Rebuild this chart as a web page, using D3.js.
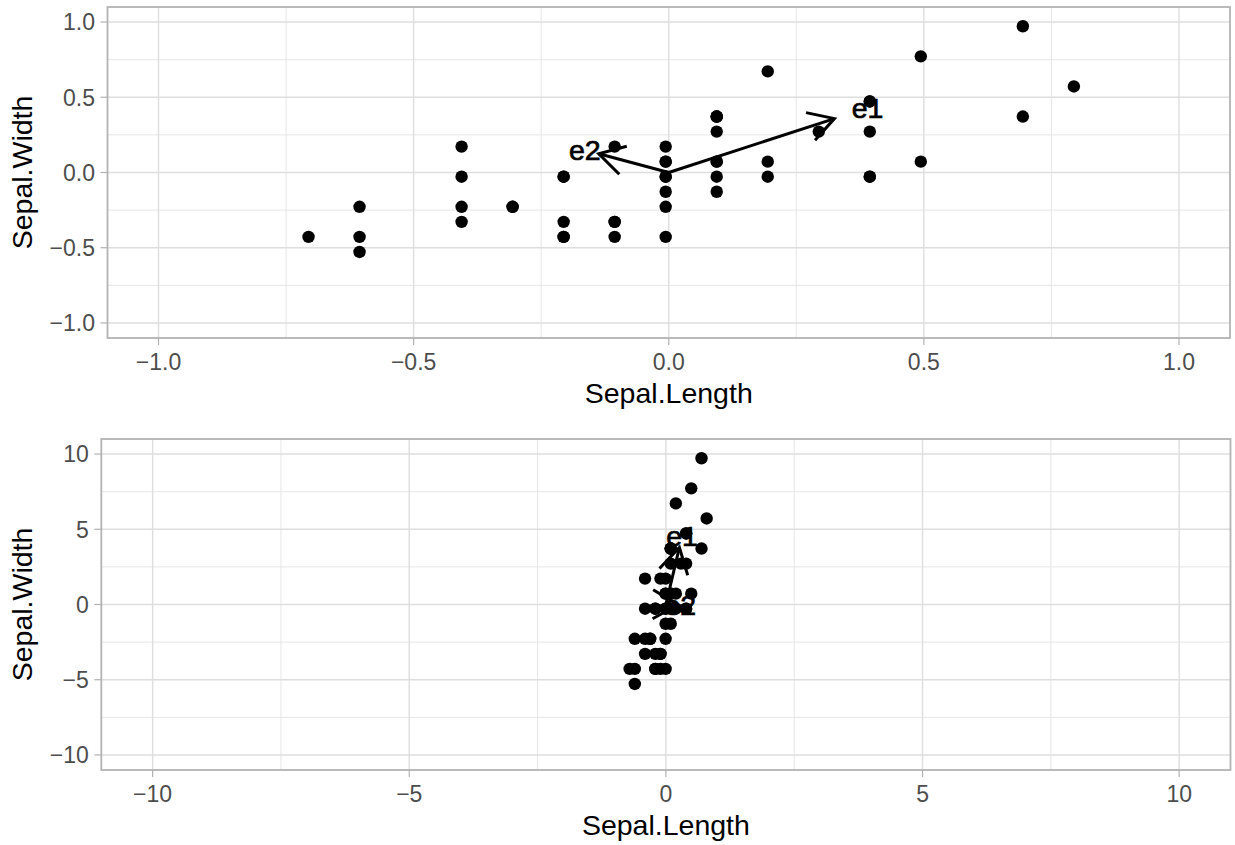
<!DOCTYPE html>
<html>
<head>
<meta charset="utf-8">
<script src="https://cdn.jsdelivr.net/npm/d3@7"></script>
<style>
  html, body { margin: 0; padding: 0; background: #ffffff; }
  svg { display: block; }
  text { font-family: "Liberation Sans", Arial, Helvetica, sans-serif; }
</style>
</head>
<body>
<svg id="chart" width="1235" height="845"></svg>
<script>
// ---- Data: iris setosa, centered Sepal.Length / Sepal.Width ----
const sepalLength = [0.094,-0.106,-0.306,-0.406,-0.006,0.394,-0.406,-0.006,-0.606,-0.106,
  0.394,-0.206,-0.206,-0.706,0.794,0.694,0.394,0.094,0.694,0.094,
  0.394,0.094,-0.406,0.094,-0.206,-0.006,-0.006,0.194,0.194,-0.306,
  -0.206,0.394,0.194,0.494,-0.106,-0.006,0.494,-0.106,-0.606,0.094,
  -0.006,-0.506,-0.606,-0.006,0.094,-0.206,0.094,-0.406,0.294,-0.006];
const sepalWidth = [0.072,-0.428,-0.228,-0.328,0.172,0.472,-0.028,-0.028,-0.528,-0.328,
  0.272,-0.028,-0.428,-0.428,0.572,0.972,0.472,0.072,0.372,0.372,
  -0.028,0.272,0.172,-0.128,-0.028,-0.428,-0.028,0.072,-0.028,-0.228,
  -0.328,-0.028,0.672,0.772,-0.328,-0.228,0.072,0.172,-0.428,-0.028,
  0.072,-1.128,-0.228,0.072,0.372,-0.428,0.372,-0.228,0.272,-0.128];
const widthScaleBottom = 10;   // second panel: Sepal.Width multiplied by 10

const arrowLabels = ["e1", "e2"];
const topArrowX = [0.3247, -0.1372];
const topArrowY = [0.3581, 0.1244];
const bottomArrowX = [0.2628, 0.2350];
const bottomArrowY = [3.7906, -0.0163];
const labelFactor = 1.2;

const topTicks = [-1, -0.5, 0, 0.5, 1];
const topTickLabels = ["\u22121.0", "\u22120.5", "0.0", "0.5", "1.0"];
const topMinor = [-0.75, -0.25, 0.25, 0.75];
const bottomTicks = [-10, -5, 0, 5, 10];
const bottomTickLabels = ["\u221210", "\u22125", "0", "5", "10"];
const bottomMinor = [-7.5, -2.5, 2.5, 7.5];

const xTitle = "Sepal.Length";
const yTitle = "Sepal.Width";

// ---- Drawing ----
const svg = d3.select("#chart");

function panel(cfg) {
  const {left, right, top, bottom, domain, ticks, tickLabels, minor, xs, ys, ax, ay} = cfg;
  const x = d3.scaleLinear().domain(domain).range([left, right]);
  const y = d3.scaleLinear().domain(domain).range([bottom, top]);
  const g = svg.append("g");

  // background
  g.append("rect").attr("x", left).attr("y", top).attr("width", right - left).attr("height", bottom - top)
    .attr("fill", "#ffffff");

  // minor grid
  g.selectAll(null).data(minor).enter().append("line")
    .attr("x1", d => x(d)).attr("x2", d => x(d)).attr("y1", top).attr("y2", bottom)
    .attr("stroke", "#e3e3e3").attr("stroke-width", 0.9);
  g.selectAll(null).data(minor).enter().append("line")
    .attr("y1", d => y(d)).attr("y2", d => y(d)).attr("x1", left).attr("x2", right)
    .attr("stroke", "#e3e3e3").attr("stroke-width", 0.9);
  // major grid
  g.selectAll(null).data(ticks).enter().append("line")
    .attr("x1", d => x(d)).attr("x2", d => x(d)).attr("y1", top).attr("y2", bottom)
    .attr("stroke", "#dedede").attr("stroke-width", 1.4);
  g.selectAll(null).data(ticks).enter().append("line")
    .attr("y1", d => y(d)).attr("y2", d => y(d)).attr("x1", left).attr("x2", right)
    .attr("stroke", "#dedede").attr("stroke-width", 1.4);

  // points (drop out-of-range like ggplot)
  const pts = xs.map((v, i) => [v, ys[i]])
    .filter(p => p[0] >= domain[0] && p[0] <= domain[1] && p[1] >= domain[0] && p[1] <= domain[1]);
  g.selectAll(null).data(pts).enter().append("circle")
    .attr("cx", d => x(d[0])).attr("cy", d => y(d[1])).attr("r", 6.2).attr("fill", "#000000");

  // arrows
  const arrows = ax.map((v, i) => ({x: v, y: ay[i], label: arrowLabels[i]}));
  const barbLen = 29, ang = Math.PI / 6;
  arrows.forEach(a => {
    const x0 = x(0), y0 = y(0), x1 = x(a.x), y1 = y(a.y);
    g.append("line").attr("x1", x0).attr("y1", y0).attr("x2", x1).attr("y2", y1)
      .attr("stroke", "#000").attr("stroke-width", 3);
    const th = Math.atan2(y0 - y1, x0 - x1);
    const pts2 = [th + ang, th - ang].map(t => [x1 + barbLen * Math.cos(t), y1 + barbLen * Math.sin(t)]);
    g.append("path")
      .attr("d", `M${pts2[0][0]},${pts2[0][1]}L${x1},${y1}L${pts2[1][0]},${pts2[1][1]}`)
      .attr("fill", "none").attr("stroke", "#000").attr("stroke-width", 3);
  });
  arrows.forEach(a => {
    g.append("text").attr("x", x(a.x * labelFactor)).attr("y", y(a.y * labelFactor))
      .attr("text-anchor", "middle").attr("dominant-baseline", "central")
      .attr("font-size", 28.5).attr("fill", "#000").attr("stroke", "#000").attr("stroke-width", 0.7)
      .text(a.label);
  });

  // border
  g.append("rect").attr("x", left).attr("y", top).attr("width", right - left).attr("height", bottom - top)
    .attr("fill", "none").attr("stroke", "#b3b3b3").attr("stroke-width", 1.8);

  // ticks
  g.selectAll(null).data(ticks).enter().append("line")
    .attr("x1", d => x(d)).attr("x2", d => x(d)).attr("y1", bottom).attr("y2", bottom + 7)
    .attr("stroke", "#b3b3b3").attr("stroke-width", 1.2);
  g.selectAll(null).data(ticks).enter().append("line")
    .attr("y1", d => y(d)).attr("y2", d => y(d)).attr("x1", left - 7).attr("x2", left)
    .attr("stroke", "#b3b3b3").attr("stroke-width", 1.2);

  // tick labels
  g.selectAll(null).data(ticks).enter().append("text")
    .attr("x", d => x(d)).attr("y", bottom + 32)
    .attr("text-anchor", "middle").attr("font-size", 23).attr("fill", "#4d4d4d")
    .text((d, i) => tickLabels[i]);
  g.selectAll(null).data(ticks).enter().append("text")
    .attr("x", left - 12.5).attr("y", d => y(d)).attr("dy", "0.36em")
    .attr("text-anchor", "end").attr("font-size", 23).attr("fill", "#4d4d4d")
    .text((d, i) => tickLabels[i]);

  // axis titles
  g.append("text").attr("x", (left + right) / 2).attr("y", bottom + 65)
    .attr("text-anchor", "middle").attr("font-size", 28.5).attr("fill", "#000").text(xTitle);
  g.append("text").attr("transform", `translate(32,${(top + bottom) / 2}) rotate(-90)`)
    .attr("text-anchor", "middle").attr("font-size", 28.5).attr("fill", "#000").text(yTitle);
}

panel({
  left: 107.5, right: 1230, top: 7, bottom: 338, domain: [-1.1, 1.1],
  ticks: topTicks, tickLabels: topTickLabels, minor: topMinor,
  xs: sepalLength, ys: sepalWidth, ax: topArrowX, ay: topArrowY
});
panel({
  left: 101.3, right: 1230.5, top: 439, bottom: 770, domain: [-11, 11],
  ticks: bottomTicks, tickLabels: bottomTickLabels, minor: bottomMinor,
  xs: sepalLength, ys: sepalWidth.map(v => v * widthScaleBottom), ax: bottomArrowX, ay: bottomArrowY
});
</script>
</body>
</html>
